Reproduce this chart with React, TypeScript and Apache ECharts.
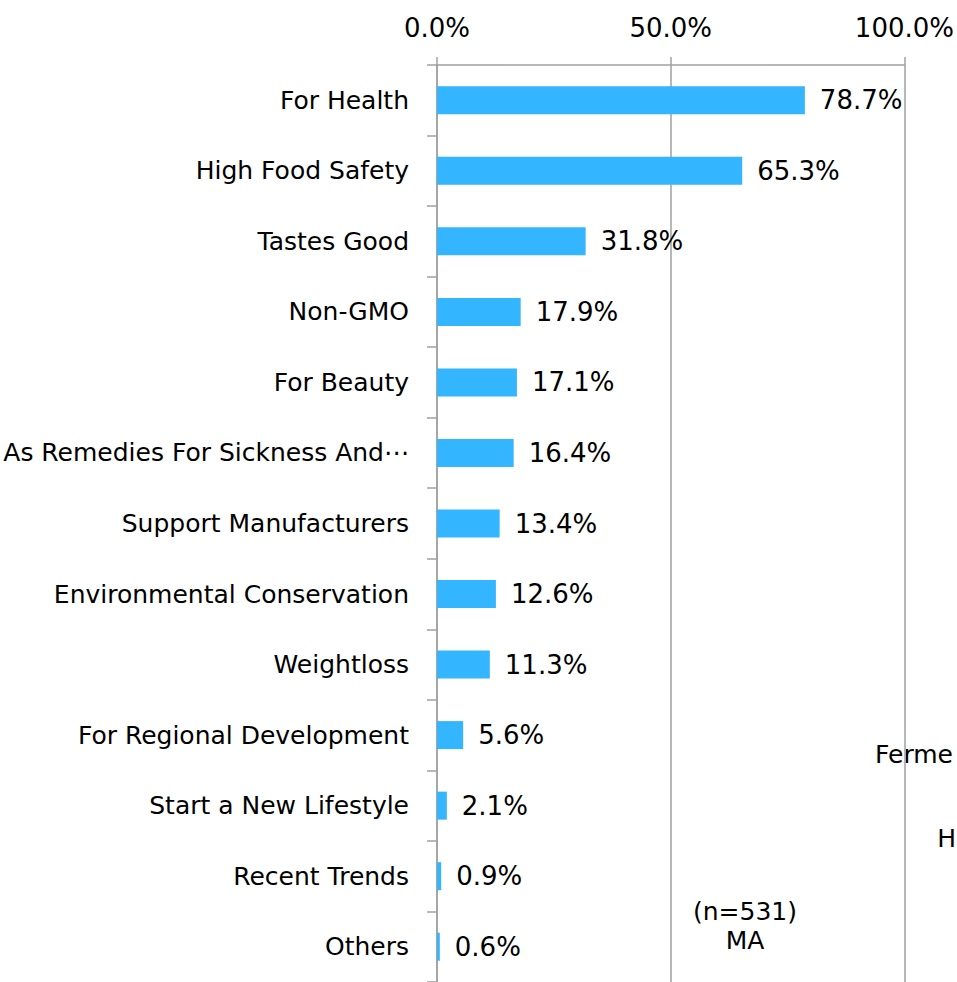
import React, { useEffect, useRef } from "react";
import * as echarts from "echarts";

const categories = [
  "For Health",
  "High Food Safety",
  "Tastes Good",
  "Non-GMO",
  "For Beauty",
  "As Remedies For Sickness And⋯",
  "Support Manufacturers",
  "Environmental Conservation",
  "Weightloss",
  "For Regional Development",
  "Start a New Lifestyle",
  "Recent Trends",
  "Others",
];
const values = [78.7, 65.3, 31.8, 17.9, 17.1, 16.4, 13.4, 12.6, 11.3, 5.6, 2.1, 0.9, 0.6];
const xTicks = [0, 50, 100];
const noteLines = ["(n=531)", "MA"];
const edgeTexts = ["Ferme", "H"];

const FONT = "DejaVu Sans";
const FS = 25;
const FS_NUM = 26;

export default function App() {
  const ref = useRef<HTMLDivElement>(null);
  useEffect(() => {
    if (!ref.current) return;
    const chart = echarts.init(ref.current, null, { renderer: "svg" });
    chart.setOption({
      animation: false,
      backgroundColor: "#ffffff",
      grid: { left: 437, top: 65, width: 469, height: 918, containLabel: false },
      xAxis: {
        type: "value",
        position: "top",
        min: xTicks[0],
        max: xTicks[xTicks.length - 1],
        interval: 50,
        axisLine: { show: true, lineStyle: { color: "#a0a0a0", width: 1.5 } },
        axisTick: { show: true, length: 8, lineStyle: { color: "#a0a0a0", width: 1.5 } },
        splitLine: { show: true, lineStyle: { color: "#a0a0a0", width: 1.5 } },
        axisLabel: {
          margin: 24,
          color: "#000",
          fontFamily: FONT,
          fontSize: FS_NUM,
          formatter: (v: number) => v.toFixed(1) + "%",
        },
      },
      yAxis: {
        type: "category",
        inverse: true,
        data: categories,
        axisLine: { show: true, lineStyle: { color: "#a0a0a0", width: 1.5 } },
        axisTick: { show: true, length: 10, lineStyle: { color: "#a0a0a0", width: 1.5 } },
        axisLabel: {
          margin: 28,
          color: "#000",
          fontFamily: FONT,
          fontSize: FS,
        },
      },
      series: [
        {
          type: "bar",
          data: values,
          barWidth: 28,
          itemStyle: { color: "#33b5ff" },
          label: {
            show: true,
            position: "right",
            distance: 15,
            color: "#000",
            fontFamily: FONT,
            fontSize: FS_NUM,
            formatter: (p: any) => p.value.toFixed(1) + "%",
          },
        },
      ],
      graphic: [
        {
          type: "text",
          x: 745,
          y: 897,
          style: {
            text: noteLines.join("\n"),
            align: "center",
            fill: "#000",
            font: `${FS}px "${FONT}"`,
            lineHeight: 29,
          },
        },
        {
          type: "text",
          x: 875,
          y: 742,
          style: { text: edgeTexts[0], fill: "#000", font: `${FS}px "${FONT}"` },
        },
        {
          type: "text",
          x: 956,
          y: 826,
          style: { text: edgeTexts[1], align: "right", fill: "#000", font: `${FS}px "${FONT}"` },
        },
      ],
    });
    return () => chart.dispose();
  }, []);
  return (
    <div
      ref={ref}
      style={{ position: "absolute", left: 0, top: 0, width: 957, height: 982 }}
    />
  );
}
